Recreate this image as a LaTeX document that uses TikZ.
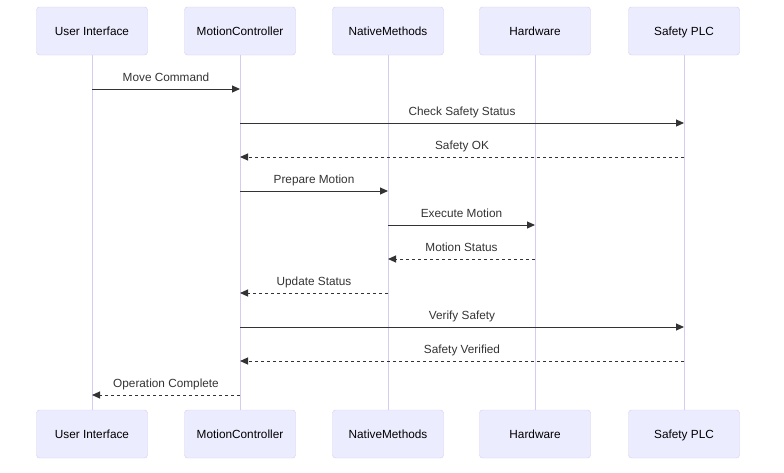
\documentclass[tikz,border=0pt]{standalone}
\usepackage{fontspec}
\setmainfont{Liberation Sans}
\usetikzlibrary{arrows.meta}
\usetikzlibrary{positioning}

\definecolor{actorfill}{HTML}{ECECFF}
\definecolor{actorline}{HTML}{D6CCF2}
\definecolor{msgline}{HTML}{333333}

\begin{document}
\begin{tikzpicture}[
  x=1pt, y=-1pt,
  > = {Triangle[length=8pt,width=7pt]},
  actor/.style = {draw=actorline,fill=actorfill,rounded corners=3pt,minimum width=111pt,minimum height=48pt,inner sep=0pt,text height=10pt,text depth=1pt,font=\fontsize{11.8}{13}\selectfont},
  life/.style = {draw=actorline,line width=1pt},
  msg/.style = {draw=msgline,line width=1pt,->},
  reply/.style = {msg,dash pattern=on 3pt off 3pt},
  lbl/.style = {font=\fontsize{11.8}{13}\selectfont,text=msgline,text height=8.5pt,text depth=2.5pt,inner sep=0pt,above=5pt}
  ]
	\useasboundingbox (0,0) rectangle (784,472);

	% participants, top and bottom
	\foreach \n/\x/\t in {ui/92/User Interface, mc/240/MotionController, nm/388/NativeMethods, hw/535/Hardware, plc/684/Safety PLC}{
		\node[actor] (\n-top) at (\x,31) {\t};
		\node[actor] (\n-bot) at (\x,434) {\t};
		\draw[life] (\n-top) -- (\n-bot);
	}

	% messages
	\foreach \y/\a/\b/\s/\t in {89/ui/mc/msg/Move Command, 123/mc/plc/msg/Check Safety Status, 157/plc/mc/reply/Safety OK, 191/mc/nm/msg/Prepare Motion, 225/nm/hw/msg/Execute Motion, 259/hw/nm/reply/Motion Status, 293/nm/mc/reply/Update Status, 327/mc/plc/msg/Verify Safety, 361/plc/mc/reply/Safety Verified, 395/mc/ui/reply/Operation Complete}{
		\coordinate (y\y) at (0,\y);
		\draw[\s] (\a-top |- y\y) -- node[lbl] {\t} (\b-top |- y\y);
	}

\end{tikzpicture}
\end{document}
